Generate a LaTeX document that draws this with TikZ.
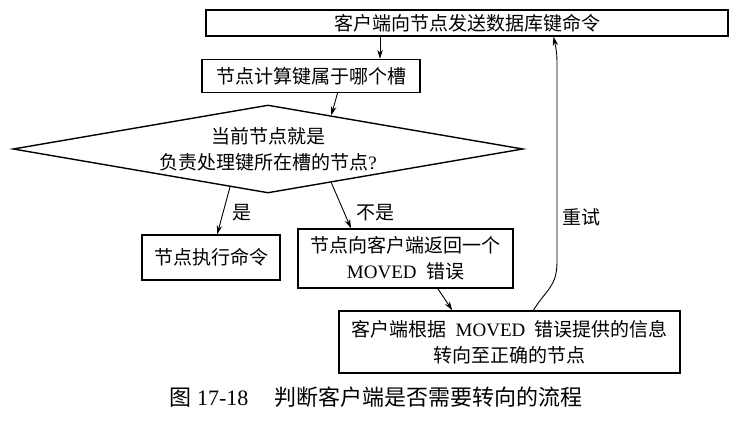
\documentclass[tikz,border=0pt]{standalone}
\usepackage{fontspec}
\setmainfont{Liberation Serif}
\newfontfamily\cjk{Noto Sans CJK SC}
\usetikzlibrary{shapes.geometric,arrows.meta}

\tikzset{
  stepbox/.style={draw, line width=1.4pt, inner sep=0pt, align=center,
    font=\cjk\fontsize{19}{26}\selectfont},
  arr/.style={-{Stealth[length=9pt,width=5.5pt]}, line width=0.9pt},
  lbl/.style={inner sep=0pt, font=\cjk\fontsize{19}{22}\selectfont},
}

\begin{document}
\begin{tikzpicture}[x=1pt,y=-1pt]
  \useasboundingbox (0,0) rectangle (738,423);

  % request and slot lookup
  \node[stepbox, minimum width=522pt, minimum height=26pt] (cmd) at (467,23) {客户端向节点发送数据库键命令};
  \node[stepbox, minimum width=218pt, minimum height=33pt] (calc) at (311,76) {节点计算键属于哪个槽};

  % decision
  \node[stepbox, diamond, aspect=5.8, minimum width=510pt, minimum height=88pt] (dia) at (268,149)
    {当前节点就是\\负责处理键所在槽的节点{\rmfamily ?}};

  % outcomes
  \node[stepbox, minimum width=138pt, minimum height=45pt] (exec) at (211,257.5) {节点执行命令};
  \node[stepbox, minimum width=215pt, minimum height=59pt] (moved) at (405.5,258.5)
    {节点向客户端返回一个\\{\rmfamily MOVED}\enspace 错误};
  \node[stepbox, minimum width=341pt, minimum height=62pt] (redir) at (509.5,342)
    {客户端根据\enspace{\rmfamily MOVED}\enspace 错误提供的信息\\转向至正确的节点};

  % arrows
  \draw[arr] (calc.14 |- cmd.south) -- (calc.14);
  \draw[arr] (calc.-33) -- (dia.28);
  \draw[arr] (dia.225) -- node[lbl, pos=0.55, right=9pt] {是} (exec.75);
  \draw[arr] (dia.-28) -- node[lbl, pos=0.65, right=12pt] {不是} (moved.151);
  \draw[arr] (moved.-43) -- (redir.151);

  % retry loop back to the top
  \coordinate (r1) at (557,262);
  \coordinate (r2) at (557,85);
  \draw[arr] (redir.53) .. controls +(12,-20) and +(0,25) .. (r1)
    -- node[lbl, pos=0.25, right=5pt] {重试} (r2)
    .. controls +(0,-25) and +(4,18) .. (cmd.-9);

  % caption
  \node[font=\fontsize{22}{26}\selectfont] (caption) at (376,397)
    {{\cjk 图}~17-18\hspace{26pt}{\cjk 判断客户端是否需要转向的流程}};

\end{tikzpicture}
\end{document}
